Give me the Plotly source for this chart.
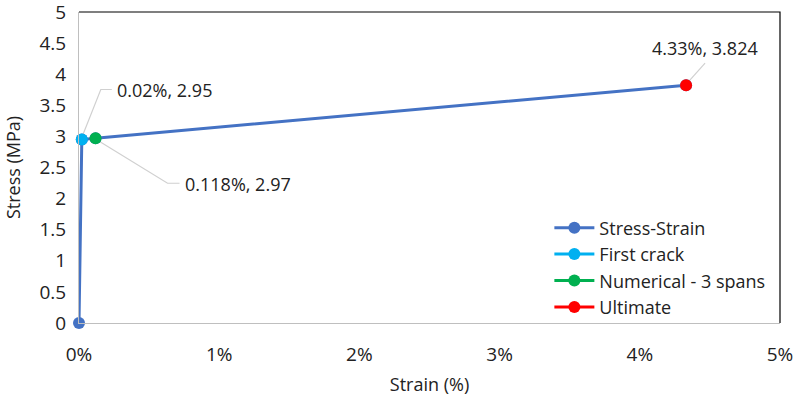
import plotly.graph_objects as go

# Stress-strain curve (strain in %, stress in MPa)
strain = [0.0, 0.02, 0.118, 4.33]
stress = [0.0, 2.95, 2.97, 3.824]

first_crack_x, first_crack_y = [0.02], [2.95]
numerical_x, numerical_y = [0.118], [2.97]
ultimate_x, ultimate_y = [4.33], [3.824]

x_ticks = [0, 1, 2, 3, 4, 5]
y_ticks = [0, 0.5, 1, 1.5, 2, 2.5, 3, 3.5, 4, 4.5, 5]

FONT = "Open Sans, Lato, sans-serif"
LEADER = "#d0d0d0"

fig = go.Figure()
series = [
    (strain, stress, "Stress-Strain", "#4472C4"),
    (first_crack_x, first_crack_y, "First crack", "#00B0F0"),
    (numerical_x, numerical_y, "Numerical - 3 spans", "#00B050"),
    (ultimate_x, ultimate_y, "Ultimate", "#FF0000"),
]
for sx, sy, name, color in series:
    fig.add_trace(go.Scatter(x=sx, y=sy, mode="lines+markers", name=name,
                             line=dict(color=color, width=3),
                             marker=dict(color=color, size=12), cliponaxis=False))

def fmt_pct(v):
    return f"{v:g}%"

labels = [
    # (x, y, text, leader path in pixel offsets (y up), text offset (x right, y down))
    (first_crack_x[0], first_crack_y[0], f"{fmt_pct(first_crack_x[0])}, {first_crack_y[0]:g}",
     "M 0 2 L 19 50 L 30 50", (33, -50)),
    (numerical_x[0], numerical_y[0], f"{fmt_pct(numerical_x[0])}, {numerical_y[0]:g}",
     "M 2 -2 L 72 -45 L 84 -45", (87, 46)),
    (ultimate_x[0], ultimate_y[0], f"{fmt_pct(ultimate_x[0])}, {ultimate_y[0]:.3f}",
     "M 2 3 L 19 22", (-36, -37)),
]

for lx, ly, txt, path, (dx, dy) in labels:
    fig.add_shape(type="path", xref="x", yref="y", xsizemode="pixel", ysizemode="pixel",
                  xanchor=lx, yanchor=ly, path=path,
                  line=dict(color=LEADER, width=1.2), layer="below")
    fig.add_annotation(x=lx, y=ly, xref="x", yref="y", text=txt, showarrow=False,
                       xshift=dx, yshift=-dy, xanchor="left",
                       yanchor="middle", font=dict(family=FONT, size=18, color="#222"))

# frame: black top/right edges
fig.add_shape(type="path", xref="paper", yref="paper",
              path="M 0 1 L 1 1 L 1 0", line=dict(color="black", width=1.2))

fig.update_layout(
    width=795, height=396,
    margin=dict(l=79, r=15, t=12, b=73),
    plot_bgcolor="white", paper_bgcolor="white",
    font=dict(family=FONT, size=18, color="#222"),
    showlegend=True,
    legend=dict(x=0.671, y=0.365, xanchor="left", yanchor="top",
                bgcolor="rgba(255,255,255,0)", font=dict(size=18),
                tracegroupgap=0, itemwidth=40),
    xaxis=dict(range=[0, 5], tickvals=x_ticks, ticktext=[f"{t}%" for t in x_ticks],
               showgrid=False, zeroline=False, showline=True, linecolor="#bfbfbf",
               linewidth=1, ticks="", tickfont=dict(size=19), ticklabeloverflow="allow",
               ticklabelstandoff=14, automargin=False,
               title=dict(text="Strain (%)", font=dict(size=18), standoff=12)),
    yaxis=dict(range=[0, 5], tickvals=y_ticks, ticktext=[f"{t:g}" for t in y_ticks],
               showgrid=False, zeroline=False, showline=True, linecolor="#bfbfbf",
               linewidth=1, ticks="", tickfont=dict(size=19), ticklabeloverflow="allow",
               ticklabelstandoff=8, automargin=False,
               title=dict(text="Stress (MPa)", font=dict(size=18), standoff=14)),
)

fig.write_html("out.html")
